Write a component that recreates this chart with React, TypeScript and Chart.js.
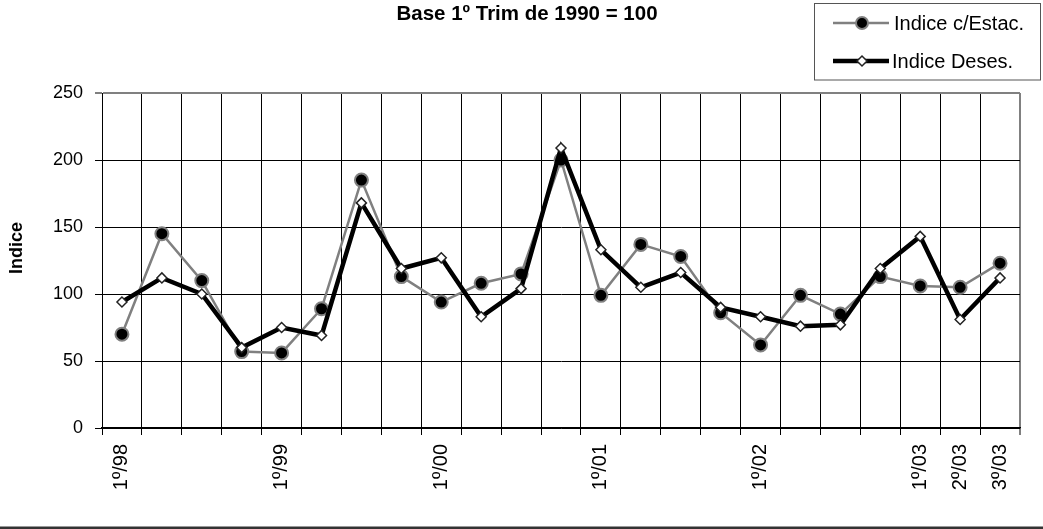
import React, { useEffect, useRef } from 'react';
import { Chart, registerables } from 'chart.js';

Chart.register(...registerables);

const categories = [
  '1º/98', '2º/98', '3º/98', '4º/98',
  '1º/99', '2º/99', '3º/99', '4º/99',
  '1º/00', '2º/00', '3º/00', '4º/00',
  '1º/01', '2º/01', '3º/01', '4º/01',
  '1º/02', '2º/02', '3º/02', '4º/02',
  '1º/03', '2º/03', '3º/03',
];
const shownLabels = ['1º/98', '1º/99', '1º/00', '1º/01', '1º/02', '1º/03', '2º/03', '3º/03'];

const indiceEstac = [70, 145, 110, 57, 56, 89, 185, 113, 94, 108, 115, 200, 99, 137, 128, 86, 62, 99, 85, 113, 106, 105, 123];
const indiceDeses = [94, 112, 100, 60, 75, 69, 168, 119, 127, 83, 104, 209, 133, 105, 116, 90, 83, 76, 77, 119, 143, 81, 112];

const yMin = 0;
const yMax = 250;
const yStep = 50;

const chartTitle = 'Base 1º Trim de 1990 = 100';
const yTitle = 'Indice';
const seriesNames = ['Indice c/Estac.', 'Indice Deses.'];

const FONT = '"Liberation Sans", Arial, Helvetica, sans-serif';
const GRAY = '#808080';

const decorPlugin = {
  id: 'decor',
  afterDraw(chart: any) {
    const ctx = chart.ctx as CanvasRenderingContext2D;
    ctx.save();
    // Title
    ctx.fillStyle = '#000';
    ctx.font = `bold 20.5px ${FONT}`;
    ctx.textAlign = 'center';
    ctx.textBaseline = 'alphabetic';
    ctx.fillText(chartTitle, 527, 19.5);

    // Y axis title
    ctx.save();
    ctx.translate(22, 248);
    ctx.rotate(-Math.PI / 2);
    ctx.font = `bold 18px ${FONT}`;
    ctx.textAlign = 'center';
    ctx.textBaseline = 'alphabetic';
    ctx.fillText(yTitle, 0, 0);
    ctx.restore();

    // Legend box
    ctx.fillStyle = '#fff';
    ctx.strokeStyle = '#555';
    ctx.lineWidth = 1;
    ctx.fillRect(814.5, 3.5, 226, 76.5);
    ctx.strokeRect(814.5, 3.5, 226, 76.5);

    // Legend entry 1
    const y1 = 23;
    ctx.strokeStyle = GRAY;
    ctx.lineWidth = 2.5;
    ctx.beginPath();
    ctx.moveTo(833, y1);
    ctx.lineTo(889, y1);
    ctx.stroke();
    ctx.beginPath();
    ctx.arc(862, y1, 6, 0, Math.PI * 2);
    ctx.fillStyle = '#000';
    ctx.fill();
    ctx.lineWidth = 2;
    ctx.strokeStyle = GRAY;
    ctx.stroke();

    // Legend entry 2
    const y2 = 61;
    ctx.strokeStyle = '#000';
    ctx.lineWidth = 4.5;
    ctx.beginPath();
    ctx.moveTo(833, y2);
    ctx.lineTo(889, y2);
    ctx.stroke();
    const r = 5;
    ctx.beginPath();
    ctx.moveTo(862 - r, y2);
    ctx.lineTo(862, y2 - r);
    ctx.lineTo(862 + r, y2);
    ctx.lineTo(862, y2 + r);
    ctx.closePath();
    ctx.fillStyle = '#fff';
    ctx.fill();
    ctx.lineWidth = 1.5;
    ctx.strokeStyle = '#222';
    ctx.stroke();

    ctx.fillStyle = '#000';
    ctx.font = `20px ${FONT}`;
    ctx.textAlign = 'left';
    ctx.textBaseline = 'middle';
    ctx.fillText(seriesNames[0], 894, y1 + 1);
    ctx.fillText(seriesNames[1], 892, y2 + 1);

    // Bottom rule
    ctx.fillStyle = '#333';
    ctx.fillRect(0, 526.5, 1043, 2.5);
    ctx.restore();
  },
};

export default function App() {
  const canvasRef = useRef<HTMLCanvasElement | null>(null);

  useEffect(() => {
    if (!canvasRef.current) return;
    const chart = new Chart(canvasRef.current, {
      type: 'line',
      data: {
        labels: categories,
        datasets: [
          {
            label: seriesNames[0],
            data: indiceEstac,
            order: 2,
            borderColor: GRAY,
            borderWidth: 2.5,
            backgroundColor: '#000',
            pointStyle: 'circle',
            pointRadius: 6.5,
            pointHoverRadius: 6.5,
            pointBackgroundColor: '#000',
            pointBorderColor: GRAY,
            pointBorderWidth: 2,
            tension: 0,
            fill: false,
          },
          {
            label: seriesNames[1],
            data: indiceDeses,
            order: 1,
            borderColor: '#000',
            borderWidth: 4.5,
            backgroundColor: '#fff',
            pointStyle: 'rectRot',
            pointRadius: 5,
            pointHoverRadius: 5,
            pointBackgroundColor: '#fff',
            pointBorderColor: '#222',
            pointBorderWidth: 1.5,
            tension: 0,
            fill: false,
          },
        ],
      },
      options: {
        responsive: false,
        animation: false,
        devicePixelRatio: 1,
        layout: { padding: { top: 93, right: 23, bottom: 0, left: 0 } },
        plugins: {
          legend: { display: false },
          title: { display: false },
          tooltip: { enabled: false },
        },
        scales: {
          x: {
            type: 'category',
            offset: true,
            afterFit: (s: any) => { s.height = 101; },
            grid: {
              offset: true,
              color: (c: any) => (c.type === 'scale' ? GRAY : '#000'),
              lineWidth: (c: any) => (c.type === 'scale' ? 2 : 1),
              tickColor: '#000',
              tickWidth: 1,
              tickLength: 7,
            },
            border: { color: '#000', width: 1.5 },
            ticks: {
              autoSkip: false,
              maxRotation: 90,
              minRotation: 90,
              padding: 9,
              color: '#000',
              font: { family: FONT, size: 20 },
              callback: (_v: any, idx: number) => {
                const l = categories[idx];
                return shownLabels.includes(l) ? l : '';
              },
            },
          },
          y: {
            min: yMin,
            max: yMax,
            afterFit: (s: any) => { s.width = 102; },
            grid: {
              color: (c: any) => (c.tick && c.tick.value === yMax ? GRAY : '#000'),
              lineWidth: (c: any) => (c.tick && c.tick.value === yMax ? 2 : 1),
              tickColor: '#000',
              tickWidth: 1,
              tickLength: 7,
            },
            border: { color: '#000', width: 1 },
            ticks: {
              stepSize: yStep,
              padding: 12,
              color: '#000',
              font: { family: FONT, size: 18 },
            },
          },
        },
      },
      plugins: [decorPlugin],
    });
    return () => chart.destroy();
  }, []);

  return (
    <div style={{ position: 'absolute', left: 0, top: 0, width: 1043, height: 529, background: '#fff' }}>
      <canvas ref={canvasRef} width={1043} height={529} style={{ display: 'block', width: 1043, height: 529 }} />
    </div>
  );
}
